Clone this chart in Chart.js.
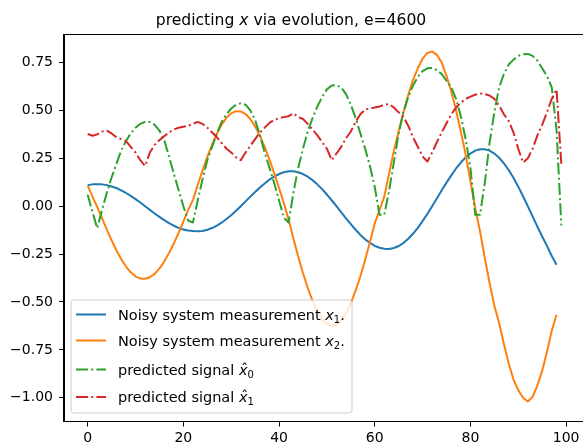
<!DOCTYPE html>
<html><head><meta charset="utf-8">
<script src="https://cdn.jsdelivr.net/npm/chart.js@4/dist/chart.umd.min.js"></script>
<style>html,body{margin:0;padding:0;overflow:hidden;background:#fff}canvas{display:block}</style>
</head><body>
<canvas id="c" width="600" height="444" style="width:600px;height:444px"></canvas>
<script>
// ---- data ----
const x1Noisy = [0.109,0.114,0.115,0.114,0.110,0.103,0.095,0.083,0.069,0.054,
 0.037,0.019,0.000,-0.019,-0.038,-0.056,-0.073,-0.088,-0.102,-0.113,
 -0.122,-0.127,-0.130,-0.131,-0.129,-0.123,-0.114,-0.101,-0.086,-0.067,
 -0.047,-0.024,0.000,0.025,0.050,0.074,0.098,0.119,0.139,0.155,
 0.168,0.177,0.182,0.182,0.177,0.168,0.154,0.136,0.114,0.089,
 0.061,0.031,0.000,-0.032,-0.064,-0.094,-0.123,-0.150,-0.173,-0.192,
 -0.207,-0.217,-0.222,-0.223,-0.218,-0.208,-0.192,-0.170,-0.144,-0.113,
 -0.078,-0.040,0.000,0.041,0.083,0.123,0.161,0.197,0.228,0.255,
 0.275,0.290,0.297,0.297,0.290,0.275,0.253,0.224,0.189,0.148,
 0.102,0.052,0.000,-0.053,-0.107,-0.158,-0.207,-0.260,-0.306];
const x2Noisy = [0.107,0.050,-0.005,-0.062,-0.122,-0.178,-0.230,-0.276,-0.315,-0.345,
 -0.366,-0.378,-0.379,-0.371,-0.353,-0.325,-0.289,-0.245,-0.195,-0.139,
 -0.080,-0.019,0.032,0.111,0.186,0.258,0.322,0.378,0.425,0.461,
 0.485,0.496,0.495,0.481,0.455,0.417,0.368,0.310,0.243,0.171,
 0.095,0.016,-0.070,-0.168,-0.262,-0.349,-0.427,-0.494,-0.548,-0.589,
 -0.615,-0.624,-0.618,-0.595,-0.558,-0.506,-0.441,-0.366,-0.280,-0.187,
 -0.090,-0.020,0.050,0.170,0.290,0.390,0.490,0.580,0.660,0.720,
 0.770,0.800,0.807,0.790,0.750,0.680,0.600,0.500,0.390,0.270,
 0.130,-0.010,-0.130,-0.270,-0.400,-0.520,-0.610,-0.720,-0.820,-0.905,
 -0.960,-1.000,-1.020,-0.995,-0.935,-0.860,-0.760,-0.650,-0.567];
const xHat0 = [0.060,-0.030,-0.115,-0.020,0.070,0.150,0.220,0.290,0.340,0.380,
 0.410,0.430,0.440,0.440,0.425,0.395,0.345,0.260,0.170,0.085,
 0.000,-0.075,-0.085,0.030,0.140,0.240,0.310,0.380,0.440,0.480,
 0.510,0.530,0.537,0.530,0.500,0.450,0.370,0.280,0.200,0.120,
 0.030,-0.060,-0.085,0.070,0.200,0.300,0.390,0.460,0.520,0.570,
 0.610,0.630,0.632,0.620,0.585,0.530,0.460,0.380,0.300,0.210,
 0.100,-0.045,-0.045,0.080,0.230,0.380,0.490,0.570,0.630,0.675,
 0.705,0.720,0.722,0.710,0.690,0.655,0.620,0.560,0.470,0.350,
 0.200,-0.045,-0.045,0.120,0.330,0.490,0.620,0.690,0.740,0.765,
 0.785,0.793,0.795,0.785,0.760,0.720,0.680,0.620,0.400,-0.100];
const xHat1 = [0.377,0.368,0.375,0.390,0.395,0.380,0.360,0.350,0.340,0.310,
 0.280,0.240,0.210,0.280,0.320,0.345,0.365,0.385,0.400,0.410,
 0.415,0.420,0.430,0.440,0.430,0.410,0.385,0.360,0.330,0.300,
 0.280,0.255,0.240,0.280,0.315,0.350,0.385,0.410,0.435,0.450,
 0.460,0.465,0.470,0.485,0.465,0.455,0.430,0.400,0.370,0.335,
 0.300,0.240,0.275,0.310,0.355,0.390,0.440,0.480,0.505,0.510,
 0.515,0.520,0.530,0.533,0.515,0.490,0.467,0.420,0.360,0.310,
 0.260,0.233,0.280,0.335,0.385,0.433,0.480,0.515,0.540,0.560,
 0.572,0.582,0.589,0.585,0.578,0.560,0.525,0.480,0.445,0.385,
 0.300,0.228,0.250,0.300,0.370,0.425,0.490,0.560,0.610,0.220];
const xTicks = [0, 20, 40, 60, 80, 100];
const yTicks = [-1.00, -0.75, -0.50, -0.25, 0.00, 0.25, 0.50, 0.75];
const yTickLabels = ['\u22121.00', '\u22120.75', '\u22120.50', '\u22120.25', '0.00', '0.25', '0.50', '0.75'];
const titleParts = [['predicting ', false], ['x', true], [' via evolution, e=4600', false]];
const legendItems = [
  {pre: 'Noisy system measurement ', hat: false, sub: '1', post: '.'},
  {pre: 'Noisy system measurement ', hat: false, sub: '2', post: '.'},
  {pre: 'predicted signal ', hat: true, sub: '0', post: ''},
  {pre: 'predicted signal ', hat: true, sub: '1', post: ''}
];
const colors = ['#1f77b4', '#ff7f0e', '#2ca02c', '#d62728'];
const dashDot = [12, 3.2, 2, 3.2];

const FONT = '"DejaVu Sans", "Liberation Sans", sans-serif';
const toPts = arr => arr.map((v, i) => ({x: i, y: v}));
const mk = (arr, color, dash, order) => ({
  data: toPts(arr), borderColor: color, backgroundColor: color, borderWidth: 2,
  borderDash: dash, pointRadius: 0, pointHoverRadius: 0, tension: 0, fill: false,
  order: order, borderCapStyle: 'butt', borderJoinStyle: 'round'
});

const bgPlugin = {id: 'bg', beforeDraw(c) {const g = c.ctx; g.save(); g.fillStyle = '#fff'; g.fillRect(0, 0, c.width, c.height); g.restore();}};

function drawMath(g, x, y, it, size) {
  g.font = size + 'px ' + FONT; g.fillText(it.pre, x, y); x += g.measureText(it.pre).width;
  g.font = 'italic ' + size + 'px ' + FONT; g.fillText('x', x, y); const wx = g.measureText('x').width;
  if (it.hat) { g.font = size + 'px ' + FONT; g.textAlign = 'center'; g.fillText('\u02C6', x + wx / 2 + 1.5, y - 1); g.textAlign = 'left'; }
  x += wx;
  g.font = Math.round(size * 0.7) + 'px ' + FONT; g.fillText(it.sub, x, y + size * 0.22); x += g.measureText(it.sub).width;
  if (it.post) { g.font = size + 'px ' + FONT; g.fillText(it.post, x, y); }
}

const overlayPlugin = {id: 'overlay', afterDraw(c) {
  const g = c.ctx, a = c.chartArea;
  g.save();
  // frame
  g.strokeStyle = '#000'; g.lineWidth = 1;
  g.strokeRect(Math.floor(a.left) - 0.5, Math.floor(a.top) + 0.5, a.right - a.left, Math.floor(a.bottom) - Math.floor(a.top));
  // title
  g.fillStyle = '#000'; g.textBaseline = 'alphabetic'; g.textAlign = 'left';
  const ts = 15.6;
  let w = 0;
  titleParts.forEach(p => { g.font = (p[1] ? 'italic ' : '') + ts + 'px ' + FONT; w += g.measureText(p[0]).width; });
  let tx = 291 - w / 2;
  titleParts.forEach(p => { g.font = (p[1] ? 'italic ' : '') + ts + 'px ' + FONT; g.fillText(p[0], tx, 25); tx += g.measureText(p[0]).width; });
  // legend
  const bx = 71, by = 300, bw = 281, bh = 113, r = 3;
  g.beginPath();
  g.moveTo(bx + r, by); g.lineTo(bx + bw - r, by); g.quadraticCurveTo(bx + bw, by, bx + bw, by + r);
  g.lineTo(bx + bw, by + bh - r); g.quadraticCurveTo(bx + bw, by + bh, bx + bw - r, by + bh);
  g.lineTo(bx + r, by + bh); g.quadraticCurveTo(bx, by + bh, bx, by + bh - r);
  g.lineTo(bx, by + r); g.quadraticCurveTo(bx, by, bx + r, by); g.closePath();
  g.fillStyle = 'rgba(255,255,255,0.8)'; g.fill();
  g.strokeStyle = '#cccccc'; g.lineWidth = 1; g.stroke();
  const baselines = [319.5, 345.5, 374.5, 402];
  legendItems.forEach((it, i) => {
    const ly = baselines[i] - 5;
    g.strokeStyle = colors[i]; g.lineWidth = 2; g.setLineDash(i >= 2 ? dashDot : []);
    g.beginPath(); g.moveTo(76, ly); g.lineTo(106, ly); g.stroke();
    g.setLineDash([]);
    g.fillStyle = '#000';
    drawMath(g, 118, baselines[i], it, 14.5);
  });
  g.restore();
}};

new Chart(document.getElementById('c'), {
  type: 'line',
  data: {datasets: [
    mk(x1Noisy, colors[0], [], 3),
    mk(x2Noisy, colors[1], [], 2),
    mk(xHat0, colors[2], dashDot, 1),
    mk(xHat1, colors[3], dashDot, 0)
  ]},
  options: {
    responsive: false, animation: false, devicePixelRatio: 1,
    layout: {padding: {top: 34, right: 15, left: 0, bottom: 0}},
    plugins: {legend: {display: false}, title: {display: false}, tooltip: {enabled: false}},
    events: [],
    scales: {
      x: {
        type: 'linear', min: -4.95, max: 103.95,
        afterBuildTicks: s => { s.ticks = xTicks.map(v => ({value: v})); },
        afterFit: s => { s.height = 22.5; },
        grid: {drawOnChartArea: false, drawTicks: true, tickLength: 5, color: '#000', lineWidth: 1},
        border: {display: true, color: '#000', width: 1},
        ticks: {font: {family: FONT, size: 14}, color: '#000', padding: 3, maxRotation: 0, autoSkip: false,
          callback: v => String(v)}
      },
      y: {
        type: 'linear', min: -1.124, max: 0.899,
        afterBuildTicks: s => { s.ticks = yTicks.map(v => ({value: v})); },
        afterFit: s => { s.width = 64; },
        grid: {drawOnChartArea: false, drawTicks: true, tickLength: 5, color: '#000', lineWidth: 1},
        border: {display: true, color: '#000', width: 1},
        ticks: {font: {family: FONT, size: 14}, color: '#000', padding: 6, autoSkip: false,
          callback: (v, i) => yTickLabels[i]}
      }
    }
  },
  plugins: [bgPlugin, overlayPlugin]
});
</script>
</body></html>
